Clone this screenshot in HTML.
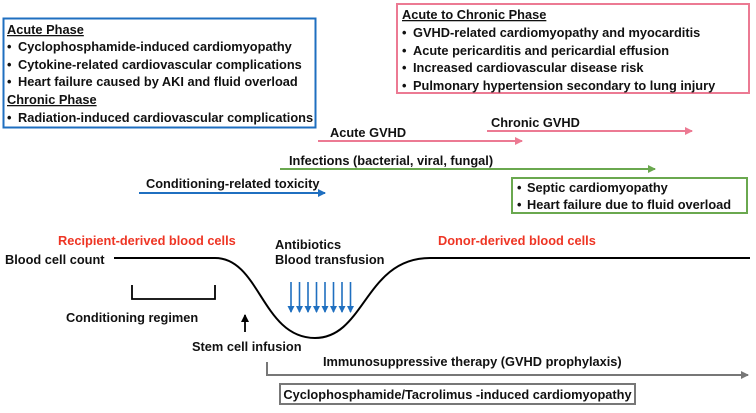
<!DOCTYPE html>
<html><head><style>
body{margin:0;background:#fff}
svg text{font-family:"Liberation Sans",Arial,sans-serif;font-weight:bold;font-size:12.8px;fill:#111}
</style></head><body>
<svg width="756" height="408" viewBox="0 0 756 408" xmlns="http://www.w3.org/2000/svg">
<defs>
<marker id="mb" markerWidth="8" markerHeight="8" refX="7" refY="4" orient="auto" markerUnits="userSpaceOnUse"><path d="M0,0 L8,4 L0,8z" fill="#1f6fc0"/></marker>
<marker id="mp" markerWidth="8" markerHeight="8" refX="7" refY="4" orient="auto" markerUnits="userSpaceOnUse"><path d="M0,0 L8,4 L0,8z" fill="#ec7a93"/></marker>
<marker id="mg" markerWidth="8" markerHeight="8" refX="7" refY="4" orient="auto" markerUnits="userSpaceOnUse"><path d="M0,0 L8,4 L0,8z" fill="#6aa84f"/></marker>
<marker id="mx" markerWidth="8" markerHeight="8" refX="7" refY="4" orient="auto" markerUnits="userSpaceOnUse"><path d="M0,0 L8,4 L0,8z" fill="#777"/></marker>
<marker id="mk" markerWidth="8" markerHeight="8" refX="7" refY="4" orient="auto" markerUnits="userSpaceOnUse"><path d="M0,0 L8,4 L0,8z" fill="#000"/></marker>
<marker id="ma" markerWidth="7" markerHeight="7" refX="6" refY="3.5" orient="auto" markerUnits="userSpaceOnUse"><path d="M0,0 L7,3.5 L0,7z" fill="#1f6fc0"/></marker>
</defs>
<!-- blue box -->
<rect x="3.5" y="18.5" width="312" height="109" fill="none" stroke="#1f6fc0" stroke-width="2"/>
<text x="7" y="34" text-decoration="underline">Acute Phase</text>
<text x="7" y="51">•<tspan x="18">Cyclophosphamide-induced cardiomyopathy</tspan></text>
<text x="7" y="69">•<tspan x="18">Cytokine-related cardiovascular complications</tspan></text>
<text x="7" y="86">•<tspan x="18">Heart failure caused by AKI and fluid overload</tspan></text>
<text x="7" y="104" text-decoration="underline">Chronic Phase</text>
<text x="7" y="122">•<tspan x="18">Radiation-induced cardiovascular complications</tspan></text>
<!-- pink box -->
<rect x="397" y="4" width="352" height="89" fill="none" stroke="#ec7a93" stroke-width="2"/>
<text x="402" y="19" text-decoration="underline">Acute to Chronic Phase</text>
<text x="402" y="37">•<tspan x="413">GVHD-related cardiomyopathy and myocarditis</tspan></text>
<text x="402" y="55">•<tspan x="413">Acute pericarditis and pericardial effusion</tspan></text>
<text x="402" y="72">•<tspan x="413">Increased cardiovascular disease risk</tspan></text>
<text x="402" y="90">•<tspan x="413">Pulmonary hypertension secondary to lung injury</tspan></text>
<!-- arrows -->
<text x="330" y="137">Acute GVHD</text>
<line x1="318" y1="141" x2="522" y2="141" stroke="#ec7a93" stroke-width="2" marker-end="url(#mp)"/>
<text x="491" y="127">Chronic GVHD</text>
<line x1="487" y1="131" x2="692" y2="131" stroke="#ec7a93" stroke-width="2" marker-end="url(#mp)"/>
<text x="289" y="165">Infections (bacterial, viral, fungal)</text>
<line x1="280" y1="169" x2="655" y2="169" stroke="#6aa84f" stroke-width="2" marker-end="url(#mg)"/>
<text x="146" y="188">Conditioning-related toxicity</text>
<line x1="139" y1="193" x2="325" y2="193" stroke="#1f6fc0" stroke-width="2" marker-end="url(#mb)"/>
<!-- green box -->
<rect x="512" y="178" width="235" height="35" fill="none" stroke="#6aa84f" stroke-width="2"/>
<text x="517" y="192">•<tspan x="527">Septic cardiomyopathy</tspan></text>
<text x="517" y="209">•<tspan x="527">Heart failure due to fluid overload</tspan></text>
<!-- curve -->
<text x="58" y="245" style="fill:#ee3524">Recipient-derived blood cells</text>
<text x="438" y="245" style="fill:#ee3524">Donor-derived blood cells</text>
<text x="5" y="264">Blood cell count</text>
<path d="M114,258 L215,258 C260,258 262,338 315,338 C365,338 365,258 430,258 L750,258" fill="none" stroke="#000" stroke-width="2"/>
<path d="M132,285 V299 H215 V285" fill="none" stroke="#000" stroke-width="1.8"/>
<text x="66" y="322">Conditioning regimen</text>
<line x1="245" y1="332" x2="245" y2="315" stroke="#000" stroke-width="1.8" marker-end="url(#mk)"/>
<text x="192" y="351">Stem cell infusion</text>
<text x="275" y="249">Antibiotics</text>
<text x="275" y="264">Blood transfusion</text>
<g stroke="#1f6fc0" stroke-width="1.6">
<line x1="291" y1="282" x2="291" y2="312" marker-end="url(#ma)"/>
<line x1="299.5" y1="282" x2="299.5" y2="312" marker-end="url(#ma)"/>
<line x1="308" y1="282" x2="308" y2="312" marker-end="url(#ma)"/>
<line x1="316.5" y1="282" x2="316.5" y2="312" marker-end="url(#ma)"/>
<line x1="325" y1="282" x2="325" y2="312" marker-end="url(#ma)"/>
<line x1="333.5" y1="282" x2="333.5" y2="312" marker-end="url(#ma)"/>
<line x1="342" y1="282" x2="342" y2="312" marker-end="url(#ma)"/>
<line x1="350.5" y1="282" x2="350.5" y2="312" marker-end="url(#ma)"/>
</g>
<!-- gray -->
<text x="323" y="366">Immunosuppressive therapy (GVHD prophylaxis)</text>
<path d="M267,362 V375 H748" fill="none" stroke="#777" stroke-width="2" marker-end="url(#mx)"/>
<rect x="280" y="384" width="355" height="20" fill="none" stroke="#777" stroke-width="2"/>
<text x="457.5" y="399" text-anchor="middle">Cyclophosphamide/Tacrolimus -induced cardiomyopathy</text>
</svg>
</body></html>
